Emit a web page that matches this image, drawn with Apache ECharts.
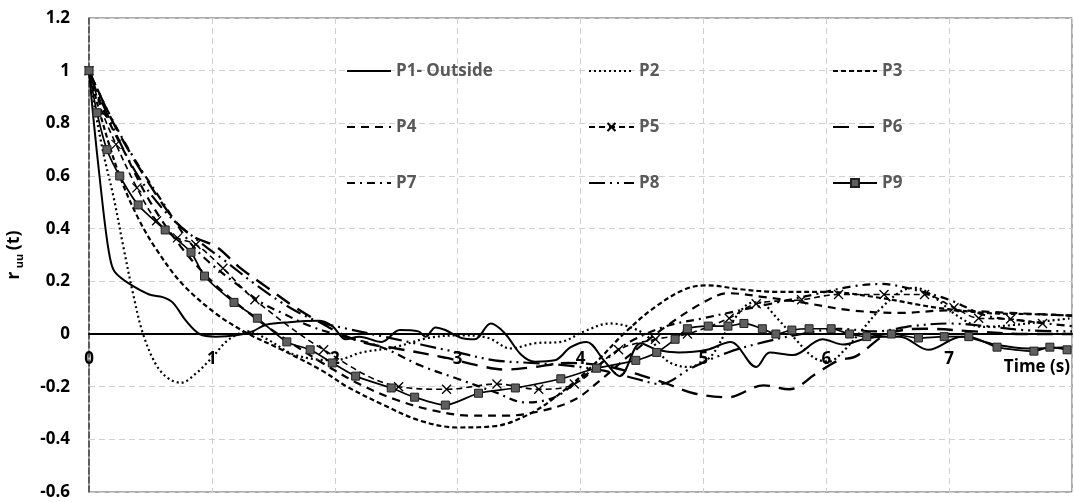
<!DOCTYPE html>
<html>
<head>
<meta charset="utf-8">
<script src="https://cdn.jsdelivr.net/npm/echarts@6/dist/echarts.min.js"></script>
<style>
  html, body { margin: 0; padding: 0; background: #fff; }
  #chart { width: 1074px; height: 502px; }
</style>
</head>
<body>
<div id="chart"></div>
<script>
// time (s) and r_uu(t) values
let timeTicks = [0, 1, 2, 3, 4, 5, 6, 7, 8]
let valueTicks = [-0.6, -0.4, -0.2, 0, 0.2, 0.4, 0.6, 0.8, 1, 1.2]
let names = ['P1- Outside', 'P2', 'P3', 'P4', 'P5', 'P6', 'P7', 'P8', 'P9']

let p1 = [[0,1],[0.04,0.8],[0.09,0.58],[0.14,0.38],[0.18,0.27],[0.22,0.23],[0.33,0.19],[0.49,0.15],[0.6,0.14],[0.68,0.12],[0.79,0.05],[0.9,0.0],[1.03,-0.01],[1.2,-0.005],[1.33,0.01],[1.44,0.035],[1.63,0.045],[1.87,0.05],[1.98,0.03],[2.09,-0.02],[2.2,-0.01],[2.38,-0.03],[2.53,0.015],[2.68,0.01],[2.74,-0.01],[2.82,0.025],[2.9,0.015],[3.03,-0.015],[3.14,-0.02],[3.27,0.04],[3.38,0.005],[3.52,-0.08],[3.63,-0.105],[3.79,-0.1],[3.92,-0.05],[4.05,-0.03],[4.19,-0.1],[4.32,-0.16],[4.49,-0.035],[4.62,-0.06],[4.8,-0.07],[5.03,-0.06],[5.22,-0.03],[5.43,-0.125],[5.54,-0.07],[5.73,-0.08],[5.97,-0.02],[6.14,-0.04],[6.3,-0.02],[6.46,-0.01],[6.6,-0.01],[6.83,-0.06],[7.1,-0.01],[7.37,-0.04],[7.64,-0.055],[7.97,-0.05]]
let p2 = [[0,1],[0.05,0.85],[0.12,0.68],[0.2,0.52],[0.28,0.33],[0.36,0.15],[0.44,0.0],[0.55,-0.12],[0.65,-0.17],[0.75,-0.185],[0.87,-0.15],[1.0,-0.09],[1.14,-0.02],[1.3,0.01],[1.45,-0.02],[1.68,-0.08],[2.0,-0.1],[2.22,-0.07],[2.49,-0.05],[2.76,-0.015],[3.03,-0.005],[3.25,-0.015],[3.43,-0.055],[3.63,-0.035],[3.84,-0.03],[4.03,0.01],[4.24,0.04],[4.44,0.02],[4.57,-0.02],[4.7,-0.1],[4.87,-0.125],[5.05,-0.09],[5.2,0.02],[5.35,0.11],[5.45,0.12],[5.6,0.06],[5.75,-0.02],[5.9,-0.09],[6.02,-0.105],[6.15,-0.06],[6.3,0.02],[6.45,0.1],[6.62,0.165],[6.73,0.175],[6.89,0.135],[7.08,0.065],[7.27,0.027],[7.54,0.035],[7.81,0.05],[8,0.06]]
let p3 = [[0,1],[0.1,0.82],[0.25,0.6],[0.4,0.44],[0.55,0.32],[0.76,0.19],[1.04,0.075],[1.3,0.0],[1.57,-0.06],[1.9,-0.14],[2.1,-0.2],[2.4,-0.27],[2.7,-0.33],[3.0,-0.355],[3.3,-0.35],[3.6,-0.3],[3.85,-0.22],[4.1,-0.12],[4.35,0.0],[4.6,0.1],[4.85,0.17],[5.03,0.185],[5.3,0.17],[5.6,0.16],[6.0,0.16],[6.4,0.14],[6.9,0.1],[7.3,0.08],[7.7,0.075],[8,0.07]]
let p4 = [[0,1],[0.12,0.85],[0.3,0.68],[0.5,0.5],[0.75,0.33],[1.0,0.2],[1.3,0.08],[1.6,-0.02],[1.9,-0.11],[2.2,-0.19],[2.5,-0.25],[2.8,-0.29],[3.1,-0.31],[3.4,-0.31],[3.7,-0.29],[3.95,-0.25],[4.15,-0.18],[4.4,-0.08],[4.7,0.03],[5.0,0.12],[5.2,0.155],[5.5,0.14],[5.8,0.12],[6.2,0.09],[6.6,0.08],[7.0,0.09],[7.5,0.08],[8,0.07]]
let p5 = [[0,1],[0.11,0.84],[0.22,0.72],[0.39,0.555],[0.55,0.43],[0.72,0.365],[0.87,0.34],[1.09,0.25],[1.35,0.13],[1.91,-0.06],[2.52,-0.2],[2.91,-0.21],[3.32,-0.19],[3.66,-0.21],[3.95,-0.19],[4.31,-0.06],[4.61,-0.02],[4.87,0.0],[5.21,0.06],[5.43,0.115],[5.8,0.13],[6.1,0.15],[6.47,0.15],[6.8,0.15],[7.04,0.1],[7.24,0.06],[7.5,0.057],[7.76,0.04]]
let p6 = [[0,1],[0.2,0.8],[0.45,0.6],[0.7,0.43],[0.85,0.37],[1.04,0.33],[1.22,0.255],[1.44,0.18],[1.65,0.11],[1.84,0.055],[2.1,-0.01],[2.3,-0.04],[2.5,-0.055],[2.9,-0.09],[3.17,-0.12],[3.38,-0.135],[3.63,-0.125],[3.9,-0.11],[4.24,-0.125],[4.65,-0.18],[4.92,-0.225],[5.2,-0.24],[5.49,-0.195],[5.7,-0.21],[5.92,-0.15],[6.1,-0.1],[6.24,-0.085],[6.5,0.0],[6.8,0.02],[7.2,0.01],[7.6,0.0],[8,0.0]]
let p7 = [[0,1],[0.15,0.85],[0.35,0.68],[0.6,0.5],[0.8,0.36],[0.96,0.28],[1.2,0.19],[1.4,0.12],[1.57,0.08],[1.8,0.03],[2.0,0.0],[2.38,-0.05],[2.7,-0.12],[3.0,-0.17],[3.3,-0.22],[3.55,-0.26],[3.79,-0.24],[4.0,-0.17],[4.2,-0.1],[4.4,-0.03],[4.7,0.03],[5.0,0.06],[5.3,0.09],[5.6,0.12],[5.9,0.15],[6.2,0.18],[6.45,0.19],[6.7,0.17],[7.0,0.13],[7.3,0.07],[7.6,0.05],[8,0.03]]
let p8 = [[0,1],[0.2,0.78],[0.4,0.6],[0.65,0.45],[0.9,0.35],[1.1,0.28],[1.35,0.19],[1.6,0.11],[1.85,0.05],[2.1,0.02],[2.4,-0.01],[2.7,-0.04],[3.0,-0.07],[3.3,-0.1],[3.6,-0.11],[3.9,-0.12],[4.2,-0.14],[4.45,-0.17],[4.65,-0.19],[4.9,-0.13],[5.2,-0.07],[5.5,-0.03],[5.8,0.0],[6.1,0.02],[6.4,0.01],[6.7,0.03],[7.0,0.04],[7.3,0.03],[7.6,0.015],[8,0.01]]
let p9 = [[0,1],[0.065,0.84],[0.146,0.70],[0.25,0.60],[0.40,0.49],[0.62,0.395],[0.83,0.31],[0.94,0.22],[1.18,0.12],[1.37,0.06],[1.61,-0.03],[1.8,-0.06],[1.98,-0.11],[2.17,-0.16],[2.46,-0.205],[2.65,-0.24],[2.9,-0.27],[3.17,-0.225],[3.47,-0.205],[3.84,-0.17],[4.13,-0.13],[4.45,-0.1],[4.62,-0.07],[4.77,-0.02],[4.87,0.02],[5.04,0.03],[5.2,0.03],[5.33,0.04],[5.48,0.02],[5.59,0.0],[5.72,0.015],[5.86,0.02],[6.04,0.02],[6.19,0.0],[6.33,-0.01],[6.53,0.0],[6.75,-0.015],[6.96,-0.01],[7.16,-0.01],[7.39,-0.05],[7.69,-0.065],[7.82,-0.05],[7.96,-0.06]]

let font = '"Open Sans", "DejaVu Sans", sans-serif'
let crossPath = 'path://M0,0L10,10M10,0L0,10'
let gridTop = 18
let gridBottom = 10
let chartHeight = 502

function lineSeries(name, data, dash, width) {
  return {
    name: name,
    type: 'line',
    data: data,
    smooth: 0.35,
    symbol: 'none',
    lineStyle: {color: '#000', width: width || 2.2, type: dash},
    itemStyle: {color: '#000'}
  }
}

let series = [
  lineSeries(names[0], p1, 'solid', 2),
  lineSeries(names[1], p2, [2, 3], 2.2),
  lineSeries(names[2], p3, [5, 3], 2.2),
  lineSeries(names[3], p4, [8, 6], 2.2),
  {
    name: names[4],
    type: 'line',
    data: p5,
    smooth: 0.35,
    symbol: crossPath,
    symbolSize: 9,
    showAllSymbol: true,
    lineStyle: {color: '#000', width: 1.6, type: [6, 4]},
    itemStyle: {color: 'transparent', borderColor: '#000', borderWidth: 1.3}
  },
  lineSeries(names[5], p6, [16, 9], 2.4),
  lineSeries(names[6], p7, [8, 5, 2, 5], 2.2),
  lineSeries(names[7], p8, [16, 5, 2, 5, 2, 5], 2.2),
  {
    name: names[8],
    type: 'line',
    data: p9,
    smooth: 0.25,
    symbol: 'rect',
    symbolSize: 8,
    showAllSymbol: true,
    z: 5,
    lineStyle: {color: '#000', width: 1.7},
    itemStyle: {color: '#5f5f5f', borderColor: '#222', borderWidth: 1}
  }
]

// legend entries: hide the marker for series drawn without one
function legendItem(name) {
  if (name === 'P5' || name === 'P9') return {name: name}
  return {name: name, itemStyle: {opacity: 0}}
}

function legendColumn(items, left, width) {
  return {
    data: items.map(legendItem),
    orient: 'vertical',
    left: left,
    top: 62,
    itemGap: 38,
    itemWidth: width,
    itemHeight: 10,
    padding: 0,
    selectedMode: false,
    textStyle: {color: '#595959', fontFamily: font, fontWeight: 'bold', fontSize: 17, lineHeight: 18}
  }
}

// x axis sits on the y = 0 line
let yMin = valueTicks[0]
let yMax = valueTicks[valueTicks.length - 1]
let plotHeight = chartHeight - gridTop - gridBottom
let zeroOffset = -plotHeight * (0 - yMin) / (yMax - yMin)

let chart = echarts.init(document.getElementById('chart'))
chart.setOption({
  animation: false,
  backgroundColor: '#fff',
  grid: {left: 89, right: 2, top: gridTop, bottom: gridBottom, outerBoundsMode: 'none', containLabel: false,
    show: true, borderColor: '#595959', borderWidth: 1},
  legend: [
    legendColumn([names[0], names[3], names[6]], 346, 44),
    legendColumn([names[1], names[4], names[7]], 588, 45),
    legendColumn([names[2], names[5], names[8]], 832, 44)
  ],
  xAxis: {
    type: 'value',
    min: timeTicks[0],
    max: timeTicks[timeTicks.length - 1],
    interval: 1,
    position: 'bottom',
    offset: zeroOffset,
    name: 'Time (s)',
    nameLocation: 'end',
    nameGap: -2,
    nameTextStyle: {color: '#000', fontFamily: font, fontWeight: 'bold', fontSize: 17, align: 'right', verticalAlign: 'top', padding: [25, 0, 0, 0]},
    axisLine: {onZero: false, lineStyle: {color: '#000', width: 2}},
    axisTick: {show: false},
    axisLabel: {
      color: '#000', fontFamily: font, fontWeight: 'bold', fontSize: 17, margin: 17,
      formatter: v => (v === 8 ? '' : String(v))
    },
    splitLine: {show: true, lineStyle: {color: '#d0d0d0', type: [6, 4]}}
  },
  yAxis: {
    type: 'value',
    min: yMin,
    max: yMax,
    interval: 0.2,
    name: '{r|r} {s|uu} {r|(t)}',
    nameLocation: 'middle',
    nameRotate: 90,
    nameGap: 64,
    nameTextStyle: {
      color: '#000',
      rich: {
        r: {fontFamily: font, fontWeight: 'bold', fontSize: 18, lineHeight: 22, color: '#000'},
        s: {fontFamily: font, fontWeight: 'bold', fontSize: 11, lineHeight: 12, verticalAlign: 'bottom', color: '#000'}
      }
    },
    axisLine: {show: true, lineStyle: {color: '#404040', width: 1.5, type: [6, 3]}},
    axisTick: {show: false},
    axisLabel: {
      color: '#000', fontFamily: font, fontWeight: 'bold', fontSize: 17, margin: 19,
      formatter: v => String(Number(v.toFixed(1)))
    },
    splitLine: {show: true, lineStyle: {color: '#d0d0d0', type: [6, 4]}}
  },
  series: series
})
</script>
</body>
</html>
